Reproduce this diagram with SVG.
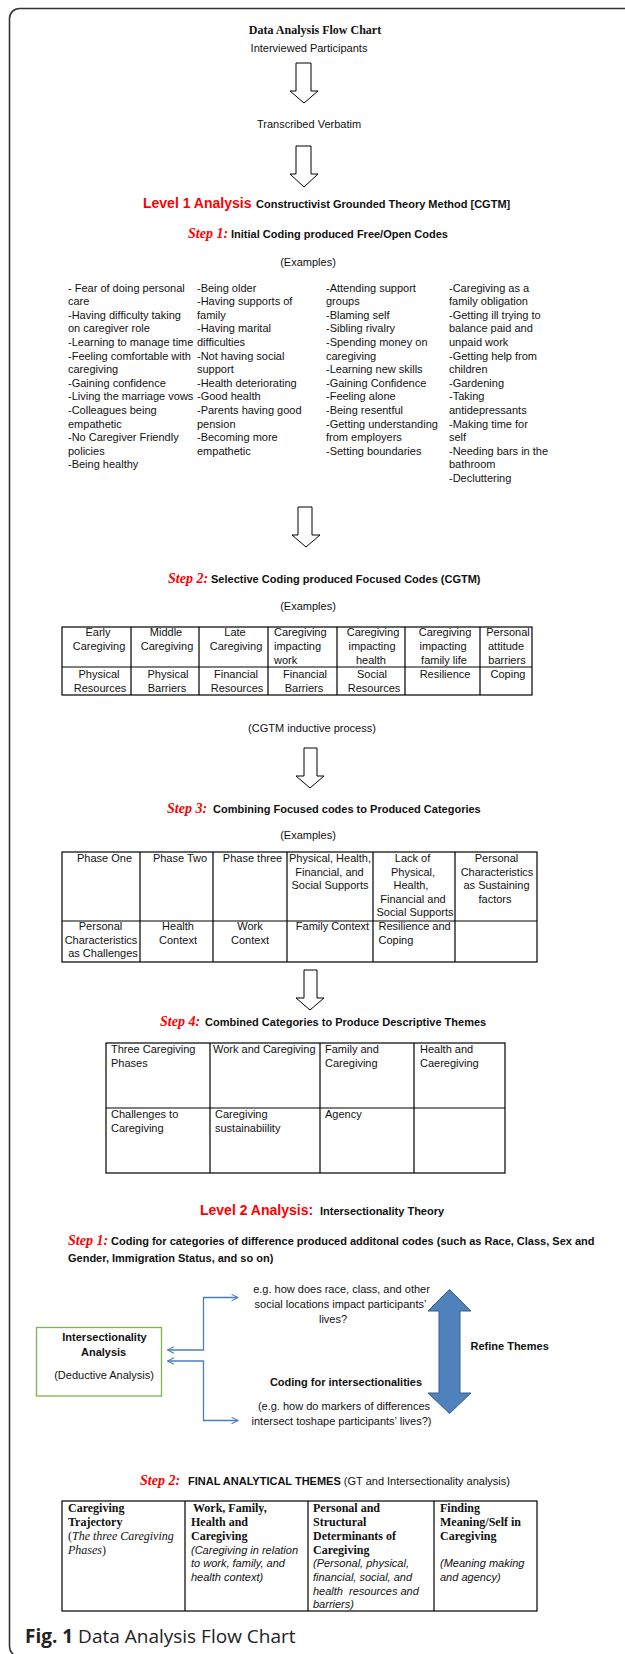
<svg xmlns="http://www.w3.org/2000/svg" width="625" height="1654" viewBox="0 0 625 1654">
<style>
.s{font-family:"Liberation Sans",Arial,sans-serif;font-size:11px;fill:#111}
.b{font-family:"Liberation Sans",Arial,sans-serif;font-size:11px;font-weight:bold;fill:#111}
.lv{font-family:"Liberation Sans",Arial,sans-serif;font-size:14px;font-weight:bold;fill:#ff0000}
.st{font-family:"Liberation Serif","Times New Roman",serif;font-size:14px;font-weight:bold;font-style:italic;fill:#ff0000}
.tb{font-family:"Liberation Serif","Times New Roman",serif;font-size:12px;font-weight:bold;fill:#111}
.ti{font-family:"Liberation Serif","Times New Roman",serif;font-size:12px;font-style:italic;fill:#111}
.tr{font-family:"Liberation Serif","Times New Roman",serif;font-size:12px;fill:#111}
.si{font-family:"Liberation Sans",Arial,sans-serif;font-size:11px;font-style:italic;fill:#111}
.c{text-anchor:middle}
.grid{fill:none;stroke:#000;stroke-width:1.2}
.harrow{fill:#fff;stroke:#000;stroke-width:1}
.conn{fill:none;stroke:#4a7ebb;stroke-width:1.3}
</style>
<defs>
<marker id="chev" viewBox="0 0 10 10" refX="9" refY="5" markerWidth="8" markerHeight="8" markerUnits="userSpaceOnUse" orient="auto-start-reverse">
<path d="M1,1 L9,5 L1,9" fill="none" stroke="#4a7ebb" stroke-width="1.3"/>
</marker>
</defs>

<rect x="9.5" y="8.5" width="700" height="1648" rx="10" fill="none" stroke="#333" stroke-width="1.6"/>

<g id="title">
<text x="315" y="34" class="tb c">Data Analysis Flow Chart</text>
</g>
<g id="interviewed">
<text x="309" y="52" class="s c">Interviewed Participants</text>
</g>
<g id="transcribed">
<text x="309" y="128" class="s c">Transcribed Verbatim</text>
</g>

<g id="level1">
<text y="208"><tspan x="143" class="lv">Level 1 Analysis</tspan><tspan x="256" class="b">Constructivist Grounded Theory Method [CGTM]</tspan></text>
</g>

<g id="step1">
<text y="238"><tspan x="188" class="st">Step 1:</tspan><tspan x="231" class="b">Initial Coding produced Free/Open Codes</tspan></text>
<text x="308" y="266" class="s c">(Examples)</text>
<text class="s" y="291.5">
<tspan x="68">- Fear of doing personal</tspan>
<tspan x="68" dy="13.6">care</tspan>
<tspan x="68" dy="13.6">-Having difficulty taking</tspan>
<tspan x="68" dy="13.6">on caregiver role</tspan>
<tspan x="68" dy="13.6">-Learning to manage time</tspan>
<tspan x="68" dy="13.6">-Feeling comfortable with</tspan>
<tspan x="68" dy="13.6">caregiving</tspan>
<tspan x="68" dy="13.6">-Gaining confidence</tspan>
<tspan x="68" dy="13.6">-Living the marriage vows</tspan>
<tspan x="68" dy="13.6">-Colleagues being</tspan>
<tspan x="68" dy="13.6">empathetic</tspan>
<tspan x="68" dy="13.6">-No Caregiver Friendly</tspan>
<tspan x="68" dy="13.6">policies</tspan>
<tspan x="68" dy="13.6">-Being healthy</tspan>
</text>
<text class="s" y="291.5">
<tspan x="197">-Being older</tspan>
<tspan x="197" dy="13.6">-Having supports of</tspan>
<tspan x="197" dy="13.6">family</tspan>
<tspan x="197" dy="13.6">-Having marital</tspan>
<tspan x="197" dy="13.6">difficulties</tspan>
<tspan x="197" dy="13.6">-Not having social</tspan>
<tspan x="197" dy="13.6">support</tspan>
<tspan x="197" dy="13.6">-Health deteriorating</tspan>
<tspan x="197" dy="13.6">-Good health</tspan>
<tspan x="197" dy="13.6">-Parents having good</tspan>
<tspan x="197" dy="13.6">pension</tspan>
<tspan x="197" dy="13.6">-Becoming more</tspan>
<tspan x="197" dy="13.6">empathetic</tspan>
</text>
<text class="s" y="291.5">
<tspan x="326">-Attending support</tspan>
<tspan x="326" dy="13.6">groups</tspan>
<tspan x="326" dy="13.6">-Blaming self</tspan>
<tspan x="326" dy="13.6">-Sibling rivalry</tspan>
<tspan x="326" dy="13.6">-Spending money on</tspan>
<tspan x="326" dy="13.6">caregiving</tspan>
<tspan x="326" dy="13.6">-Learning new skills</tspan>
<tspan x="326" dy="13.6">-Gaining Confidence</tspan>
<tspan x="326" dy="13.6">-Feeling alone</tspan>
<tspan x="326" dy="13.6">-Being resentful</tspan>
<tspan x="326" dy="13.6">-Getting understanding</tspan>
<tspan x="326" dy="13.6">from employers</tspan>
<tspan x="326" dy="13.6">-Setting boundaries</tspan>
</text>
<text class="s" y="291.5">
<tspan x="449">-Caregiving as a</tspan>
<tspan x="449" dy="13.6">family obligation</tspan>
<tspan x="449" dy="13.6">-Getting ill trying to</tspan>
<tspan x="449" dy="13.6">balance paid and</tspan>
<tspan x="449" dy="13.6">unpaid work</tspan>
<tspan x="449" dy="13.6">-Getting help from</tspan>
<tspan x="449" dy="13.6">children</tspan>
<tspan x="449" dy="13.6">-Gardening</tspan>
<tspan x="449" dy="13.6">-Taking</tspan>
<tspan x="449" dy="13.6">antidepressants</tspan>
<tspan x="449" dy="13.6">-Making time for</tspan>
<tspan x="449" dy="13.6">self</tspan>
<tspan x="449" dy="13.6">-Needing bars in the</tspan>
<tspan x="449" dy="13.6">bathroom</tspan>
<tspan x="449" dy="13.6">-Decluttering</tspan>
</text>
</g>

<g id="step2">
<text y="583"><tspan x="168" class="st">Step 2:</tspan><tspan x="211" class="b">Selective Coding produced Focused Codes (CGTM)</tspan></text>
<text x="308" y="610" class="s c">(Examples)</text>
<rect x="62" y="627" width="470" height="68" class="grid"/>
<path class="grid" d="M62,667 H532 M131,627 V695 M199,627 V695 M268,627 V695 M337,627 V695 M405,627 V695 M480,627 V695"/>
<text class="s c" y="636"><tspan x="98">Early</tspan><tspan x="99" dy="14">Caregiving</tspan></text>
<text class="s c" y="636"><tspan x="166">Middle</tspan><tspan x="167" dy="14">Caregiving</tspan></text>
<text class="s c" y="636"><tspan x="235">Late</tspan><tspan x="236" dy="14">Caregiving</tspan></text>
<text class="s" y="636"><tspan x="274">Caregiving</tspan><tspan x="274" dy="14">impacting</tspan><tspan x="274" dy="14">work</tspan></text>
<text class="s c" y="636"><tspan x="373">Caregiving</tspan><tspan x="372" dy="14">impacting</tspan><tspan x="371" dy="14">health</tspan></text>
<text class="s c" y="636"><tspan x="445">Caregiving</tspan><tspan x="443" dy="14">impacting</tspan><tspan x="444" dy="14">family life</tspan></text>
<text class="s c" y="636"><tspan x="508">Personal</tspan><tspan x="506" dy="14">attitude</tspan><tspan x="507" dy="14">barriers</tspan></text>
<text class="s c" y="678"><tspan x="99">Physical</tspan><tspan x="100" dy="13.5">Resources</tspan></text>
<text class="s c" y="678"><tspan x="168">Physical</tspan><tspan x="167" dy="13.5">Barriers</tspan></text>
<text class="s c" y="678"><tspan x="236">Financial</tspan><tspan x="237" dy="13.5">Resources</tspan></text>
<text class="s c" y="678"><tspan x="305">Financial</tspan><tspan x="304" dy="13.5">Barriers</tspan></text>
<text class="s c" y="678"><tspan x="372">Social</tspan><tspan x="374" dy="13.5">Resources</tspan></text>
<text class="s c" x="445" y="678">Resilience</text>
<text class="s c" x="508" y="678">Coping</text>
<text x="312" y="732" class="s c">(CGTM inductive process)</text>
</g>

<g id="step3">
<text y="813"><tspan x="167" class="st">Step 3:</tspan><tspan x="213" class="b">Combining Focused codes to Produced Categories</tspan></text>
<text x="308" y="839" class="s c">(Examples)</text>
<rect x="62" y="852" width="475" height="110" class="grid"/>
<path class="grid" d="M62,921 H537 M140,852 V962 M213,852 V962 M287,852 V962 M373,852 V962 M455,852 V962"/>
<text class="s c" x="104.5" y="862">Phase One</text>
<text class="s c" x="180" y="862">Phase Two</text>
<text class="s c" x="252.5" y="862">Phase three</text>
<text class="s c" y="862"><tspan x="330">Physical, Health,</tspan><tspan x="329.5" dy="13.6">Financial, and</tspan><tspan x="330" dy="13.6">Social Supports</tspan></text>
<text class="s c" y="862"><tspan x="412.5">Lack of</tspan><tspan x="413" dy="13.6">Physical,</tspan><tspan x="411" dy="13.6">Health,</tspan><tspan x="413" dy="13.6">Financial and</tspan><tspan x="415" dy="13.6">Social Supports</tspan></text>
<text class="s c" y="862"><tspan x="496.5">Personal</tspan><tspan x="497" dy="13.6">Characteristics</tspan><tspan x="496.5" dy="13.6">as Sustaining</tspan><tspan x="495" dy="13.6">factors</tspan></text>
<text class="s c" y="930"><tspan x="100.5">Personal</tspan><tspan x="101" dy="13.6">Characteristics</tspan><tspan x="103" dy="13.6">as Challenges</tspan></text>
<text class="s c" y="930"><tspan x="178">Health</tspan><tspan x="178" dy="13.6">Context</tspan></text>
<text class="s c" y="930"><tspan x="250">Work</tspan><tspan x="250" dy="13.6">Context</tspan></text>
<text class="s c" x="332.5" y="930">Family Context</text>
<text class="s" y="930"><tspan x="378.5">Resilience and</tspan><tspan x="378.5" dy="13.6">Coping</tspan></text>
</g>

<g id="step4">
<text y="1026"><tspan x="160" class="st">Step 4:</tspan><tspan x="205" class="b">Combined Categories to Produce Descriptive Themes</tspan></text>
<rect x="106" y="1043" width="399" height="130" class="grid"/>
<path class="grid" d="M106,1108 H505 M210,1043 V1173 M320,1043 V1173 M414,1043 V1173"/>
<text class="s" y="1053"><tspan x="111">Three Caregiving</tspan><tspan x="111" dy="14">Phases</tspan></text>
<text class="s" x="213" y="1053">Work and Caregiving</text>
<text class="s" y="1053"><tspan x="325">Family and</tspan><tspan x="325" dy="14">Caregiving</tspan></text>
<text class="s" y="1053"><tspan x="420">Health and</tspan><tspan x="420" dy="14">Caeregiving</tspan></text>
<text class="s" y="1118"><tspan x="111">Challenges to</tspan><tspan x="111" dy="14">Caregiving</tspan></text>
<text class="s" y="1118"><tspan x="215">Caregiving</tspan><tspan x="215" dy="14">sustainabiility</tspan></text>
<text class="s" x="325" y="1118">Agency</text>
</g>

<g id="level2">
<text y="1215"><tspan x="200" class="lv">Level 2 Analysis:</tspan><tspan x="320" class="b">Intersectionality Theory</tspan></text>
<text y="1245"><tspan x="68" class="st">Step 1:</tspan><tspan x="111" class="b">Coding for categories of difference produced additonal codes (such as Race, Class, Sex and</tspan></text>
<text x="68" y="1262" class="b">Gender, Immigration Status, and so on)</text>
</g>

<g id="intersectionality-analysis">
<rect x="36.5" y="1327.5" width="125" height="68.5" fill="#fff" stroke="#7ab648" stroke-width="1.3"/>
<text class="b c" x="104.5" y="1341">Intersectionality</text>
<text class="b c" x="103.6" y="1356">Analysis</text>
<text class="s c" x="104" y="1379">(Deductive Analysis)</text>
</g>

<g id="question-upper">
<text class="s c" y="1293"><tspan x="341.5">e.g. how does race, class, and other</tspan><tspan x="340.5" dy="15">social locations impact participants’</tspan><tspan x="333" dy="15">lives?</tspan></text>
</g>

<g id="coding-intersectionalities">
<text class="b c" x="346" y="1386">Coding for intersectionalities</text>
<text class="s c" y="1410"><tspan x="344">(e.g. how do markers of differences</tspan><tspan x="341.5" dy="14.5">intersect toshape participants’ lives?)</tspan></text>
</g>

<g id="refine-themes">
<polygon points="449.5,1289.5 471,1311 460,1311 460,1393 471,1393 449.5,1413.5 428,1393 439,1393 439,1311 428,1311" fill="#4f81bd" stroke="#385d8a" stroke-width="1"/>
<text class="b" x="470.5" y="1350">Refine Themes</text>
</g>

<g id="final-themes">
<text y="1485"><tspan x="140" class="st">Step 2:</tspan><tspan x="188" class="b">FINAL ANALYTICAL THEMES</tspan><tspan class="s"> (GT and Intersectionality analysis)</tspan></text>
<rect x="62" y="1501" width="475" height="110" class="grid"/>
<path class="grid" d="M185,1501 V1611 M308,1501 V1611 M434,1501 V1611"/>
<text y="1512"><tspan x="68" class="tb">Caregiving</tspan><tspan x="68" dy="14" class="tb">Trajectory</tspan><tspan x="68" dy="14" class="tr">(</tspan><tspan class="ti">The three Caregiving</tspan><tspan x="68" dy="14" class="ti">Phases</tspan><tspan class="tr">)</tspan></text>
<text y="1512"><tspan x="193" class="tb">Work, Family,</tspan><tspan x="191" dy="14" class="tb">Health and</tspan><tspan x="191" dy="14" class="tb">Caregiving</tspan><tspan x="191" dy="13.7" class="si">(Caregiving in relation</tspan><tspan x="191" dy="13.5" class="si">to work, family, and</tspan><tspan x="191" dy="13.5" class="si">health context)</tspan></text>
<text y="1512"><tspan x="313" class="tb">Personal and</tspan><tspan x="313" dy="14" class="tb">Structural</tspan><tspan x="313" dy="14" class="tb">Determinants of</tspan><tspan x="313" dy="13.7" class="tb">Caregiving</tspan><tspan x="313" dy="13.5" class="si">(Personal, physical,</tspan><tspan x="313" dy="13.5" class="si">financial, social, and</tspan><tspan x="313" dy="14" class="si" xml:space="preserve">health  resources and</tspan><tspan x="313" dy="13.5" class="si">barriers)</tspan></text>
<text y="1512"><tspan x="440" class="tb">Finding</tspan><tspan x="440" dy="14" class="tb">Meaning/Self in</tspan><tspan x="440" dy="14" class="tb">Caregiving</tspan><tspan x="440" dy="27.2" class="si">(Meaning making</tspan><tspan x="440" dy="13.5" class="si">and agency)</tspan></text>
</g>

<g id="connectors">
<polygon class="harrow" points="296,63 311,63 311,91 318,91 304,103 290,91 296,91"/>
<polygon class="harrow" points="296,146 311,146 311,174 318,174 304,187 290,174 296,174"/>
<polygon class="harrow" points="298,507 312,507 312,535 320,535 306,547 292,535 298,535"/>
<polygon class="harrow" points="304,748 317,748 317,776 324,776 310,788 296,776 304,776"/>
<polygon class="harrow" points="304,970 317,970 317,998 324,998 310,1010 296,998 304,998"/>
<path class="conn" d="M167.5,1350 H203.5 V1297.5 H238" marker-start="url(#chev)" marker-end="url(#chev)"/>
<path class="conn" d="M167.5,1361 H203.5 V1420.5 H238" marker-start="url(#chev)" marker-end="url(#chev)"/>
</g>

<g id="caption">
<text x="25" y="1643" font-family="'Open Sans','Noto Sans',sans-serif" font-size="19" fill="#222"><tspan font-weight="bold">Fig. 1</tspan> Data Analysis Flow Chart</text>
</g>
</svg>
